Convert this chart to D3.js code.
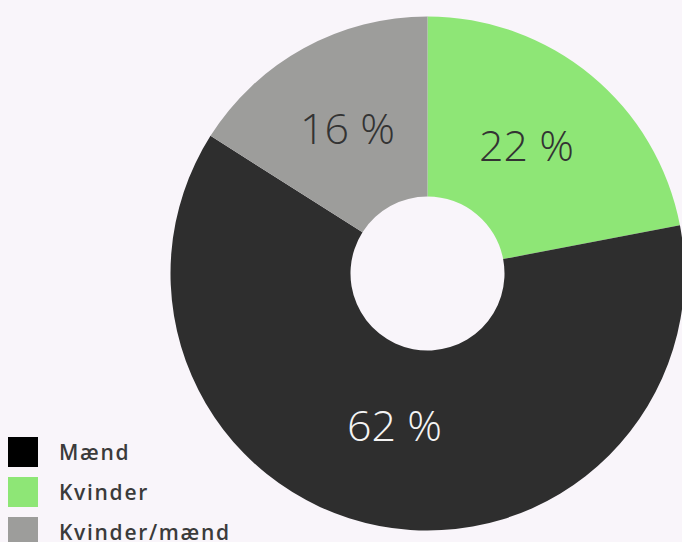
<!DOCTYPE html>
<html><head><meta charset="utf-8">
<script src="https://cdn.jsdelivr.net/npm/d3@7"></script>
<style>html,body{margin:0;padding:0;background:#f9f5fa;}svg{display:block;}</style>
</head><body>
<svg id="c" width="682" height="542"></svg>
<script>
const sliceLabels = ["Kvinder", "Mænd", "Kvinder/mænd"];
const sliceValues = [22, 62, 16];
const sliceColors = ["#8ee676", "#2e2e2e", "#9d9d9b"];
const labelColors = ["#333333", "#f4f4f4", "#333333"];
const legendLabels = ["Mænd", "Kvinder", "Kvinder/mænd"];
const legendColors = ["#000000", "#8ee676", "#9d9d9b"];

const svg = d3.select("#c");
const cx = 427.5, cy = 273.5, outerR = 257, innerR = 77;
const g = svg.append("g").attr("transform", `translate(${cx},${cy})`);
const pie = d3.pie().sort(null).value(d => d)(sliceValues);
const arc = d3.arc().innerRadius(innerR).outerRadius(outerR);
const labelArc = d3.arc().innerRadius(160).outerRadius(160);

g.selectAll("path").data(pie).join("path")
  .attr("d", arc).attr("fill", (d, i) => sliceColors[i]);

g.selectAll("text").data(pie).join("text")
  .attr("transform", d => { const c = labelArc.centroid(d); return `translate(${c[0] - 3},${c[1] - 5})`; })
  .attr("text-anchor", "middle").attr("dy", "0.36em")
  .attr("font-family", "'Open Sans', sans-serif").attr("font-weight", 300)
  .attr("font-size", 43).attr("fill", (d, i) => labelColors[i])
  .text(d => d.data + " %");

const leg = svg.append("g");
const item = leg.selectAll("g").data(legendLabels).join("g")
  .attr("transform", (d, i) => `translate(8,${437 + i * 40})`);
item.append("rect").attr("width", 30).attr("height", 30)
  .attr("fill", (d, i) => legendColors[i]);
item.append("text").attr("x", 51).attr("y", 23)
  .attr("font-family", "'Open Sans', sans-serif").attr("font-weight", 600)
  .attr("font-size", 21).attr("letter-spacing", 1.7).attr("fill", "#3b3b3b")
  .text(d => d);
</script>
</body></html>
